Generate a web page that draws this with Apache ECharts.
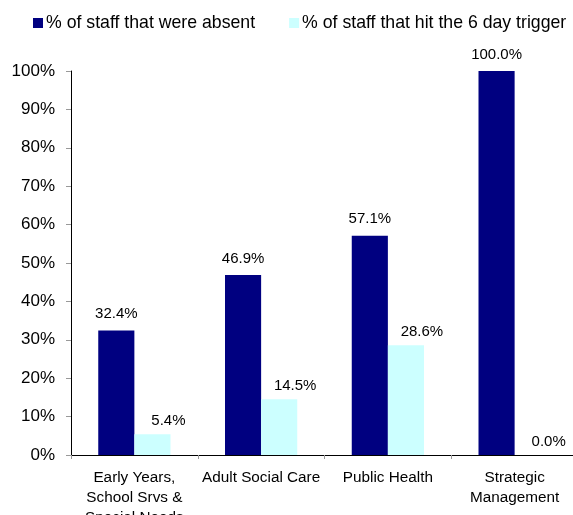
<!DOCTYPE html>
<html>
<head>
<meta charset="utf-8">
<script src="https://cdn.jsdelivr.net/npm/echarts@6/dist/echarts.min.js"></script>
<style>
  html, body { margin: 0; padding: 0; background: #fff; }
  #main { width: 573px; height: 515px; }
</style>
</head>
<body>
<div id="main"></div>
<script>
// chart data
const categories = [
  'Early Years,\nSchool Srvs &\nSpecial Needs',
  'Adult Social Care',
  'Public Health',
  'Strategic\nManagement'
];
const seriesNames = ['% of staff that were absent', '% of staff that hit the 6 day trigger'];
const absentValues = [32.4, 46.9, 57.1, 100.0];
const triggerValues = [5.4, 14.5, 28.6, 0.0];

const font = 'Liberation Sans, Arial, sans-serif';

const myChart = echarts.init(document.getElementById('main'));

function pctLabel(p) { return p.value.toFixed(1) + '%'; }

const option = {
  animation: false,
  legend: {
    left: 33,
    top: 14,
    width: 600,
    padding: 0,
    itemWidth: 10,
    itemHeight: 10,
    itemGap: 34,
    icon: 'rect',
    textStyle: { fontSize: 17.7, fontFamily: font, color: '#000', padding: [0, 0, 0, -2] },
    data: seriesNames
  },
  grid: { left: 71, right: -5, top: 71, bottom: 60, containLabel: false, outerBoundsMode: 'none' },
  xAxis: {
    type: 'category',
    data: categories,
    axisLine: { lineStyle: { color: '#000', width: 1 } },
    axisTick: { show: true, length: 4, lineStyle: { color: '#999' } },
    axisLabel: {
      margin: 13,
      fontSize: 15.3,
      lineHeight: 20,
      fontFamily: font,
      color: '#000',
      interval: 0
    }
  },
  yAxis: {
    type: 'value',
    min: 0,
    max: 100,
    interval: 10,
    splitLine: { show: false },
    axisLine: { show: true, lineStyle: { color: '#000', width: 1 } },
    axisTick: { show: true, length: 5, lineStyle: { color: '#999' } },
    axisLabel: {
      margin: 16,
      fontSize: 17,
      fontFamily: font,
      color: '#000',
      formatter: '{value}%'
    }
  },
  series: [
    {
      name: seriesNames[0],
      type: 'bar',
      data: absentValues,
      barGap: '0%',
      barCategoryGap: '43%',
      itemStyle: { color: '#000080' },
      label: {
        show: true, position: 'top', distance: 9,
        color: '#000', fontSize: 15, fontFamily: font,
        formatter: pctLabel
      }
    },
    {
      name: seriesNames[1],
      type: 'bar',
      data: triggerValues,
      itemStyle: { color: '#CCFFFF' },
      label: {
        show: true, position: 'top', distance: 9, offset: [16, 3],
        color: '#000', fontSize: 15, fontFamily: font,
        formatter: pctLabel
      }
    }
  ]
};

myChart.setOption(option);
</script>
</body>
</html>
